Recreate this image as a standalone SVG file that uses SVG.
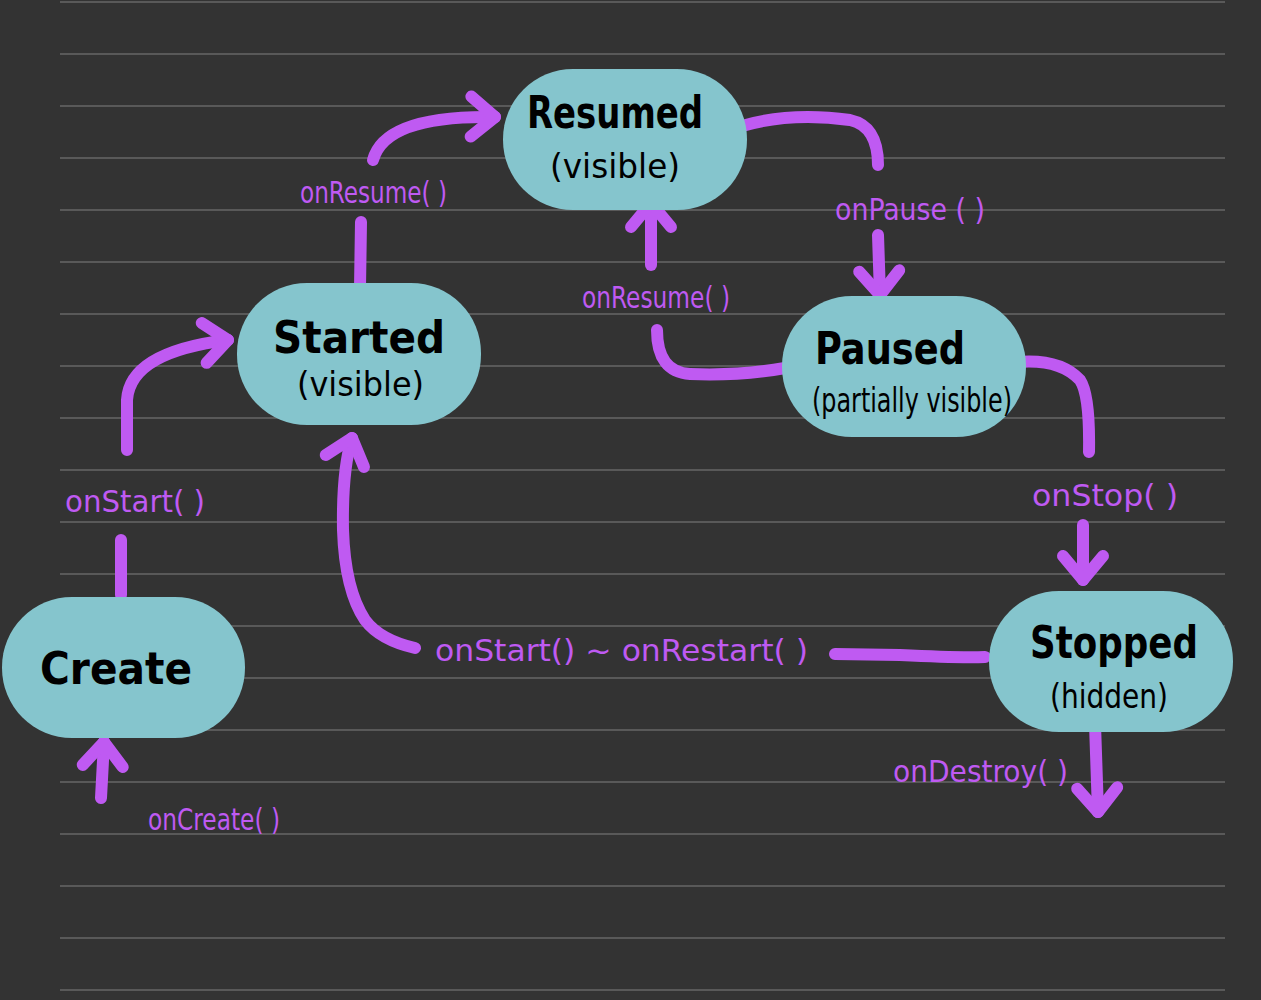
<svg xmlns="http://www.w3.org/2000/svg" width="1261" height="1000" viewBox="0 0 1261 1000">
<defs>
<style>
.rule{stroke:#595959;stroke-width:2}
.node{fill:#85c5cd}
.title{font-family:"DejaVu Sans Condensed","DejaVu Sans",sans-serif;font-weight:bold;fill:#000;font-size:44px}
.sub{font-family:"DejaVu Sans Condensed","DejaVu Sans",sans-serif;fill:#000;font-size:34px}
.lbl{font-family:"DejaVu Sans Condensed","DejaVu Sans",sans-serif;fill:#bf5af2;font-size:30px}
.conn{fill:none;stroke:#bf5af2;stroke-width:12;stroke-linecap:round;stroke-linejoin:round}
</style>
<marker id="ah" markerUnits="userSpaceOnUse" viewBox="-40 -40 80 80" markerWidth="80" markerHeight="80" refX="0" refY="0" orient="auto" overflow="visible">
<path d="M -24 -20 L 0 0 L -24 20" fill="none" stroke="#bf5af2" stroke-width="12" stroke-linecap="round" stroke-linejoin="round"/>
</marker>
</defs>
<rect width="1261" height="1000" fill="#333333"/>
<g id="rules">
<line class="rule" x1="60" y1="2" x2="1225" y2="2"/>
<line class="rule" x1="60" y1="54" x2="1225" y2="54"/>
<line class="rule" x1="60" y1="106" x2="1225" y2="106"/>
<line class="rule" x1="60" y1="158" x2="1225" y2="158"/>
<line class="rule" x1="60" y1="210" x2="1225" y2="210"/>
<line class="rule" x1="60" y1="262" x2="1225" y2="262"/>
<line class="rule" x1="60" y1="314" x2="1225" y2="314"/>
<line class="rule" x1="60" y1="366" x2="1225" y2="366"/>
<line class="rule" x1="60" y1="418" x2="1225" y2="418"/>
<line class="rule" x1="60" y1="470" x2="1225" y2="470"/>
<line class="rule" x1="60" y1="522" x2="1225" y2="522"/>
<line class="rule" x1="60" y1="574" x2="1225" y2="574"/>
<line class="rule" x1="60" y1="626" x2="1225" y2="626"/>
<line class="rule" x1="60" y1="678" x2="1225" y2="678"/>
<line class="rule" x1="60" y1="730" x2="1225" y2="730"/>
<line class="rule" x1="60" y1="782" x2="1225" y2="782"/>
<line class="rule" x1="60" y1="834" x2="1225" y2="834"/>
<line class="rule" x1="60" y1="886" x2="1225" y2="886"/>
<line class="rule" x1="60" y1="938" x2="1225" y2="938"/>
<line class="rule" x1="60" y1="990" x2="1225" y2="990"/>
</g>
<g id="connectors">
<path class="conn" d="M 121 595 L 121 540"/>
<path class="conn" marker-end="url(#ah)" d="M 127 450 L 127 400 Q 130 352 228 340"/>
<path class="conn" d="M 360 288 L 361 222"/>
<path class="conn" marker-end="url(#ah)" d="M 373 160 Q 385 115 495 117"/>
<path class="conn" d="M 742 126 Q 790 112 850 120 Q 878 126 878 165"/>
<path class="conn" marker-end="url(#ah)" d="M 878 235 L 880 295"/>
<path class="conn" d="M 785 368 Q 740 376 690 374 Q 657 372 657 330"/>
<path class="conn" marker-end="url(#ah)" d="M 651 265 L 651 203"/>
<path class="conn" d="M 1016 362 Q 1060 358 1080 380 Q 1090 395 1089 452"/>
<path class="conn" marker-end="url(#ah)" d="M 1083 525 L 1083 580"/>
<path class="conn" d="M 985 657 Q 960 658 900 655 L 835 654"/>
<path class="conn" marker-end="url(#ah)" d="M 415 648 Q 380 640 365 620 Q 345 590 343 530 Q 342 470 352 438"/>
<path class="conn" marker-end="url(#ah)" d="M 101 798 L 104 742"/>
<path class="conn" marker-end="url(#ah)" d="M 1095 724 L 1098 812"/>
</g>
<g id="labels">
<text class="lbl" x="65" y="512" textLength="140" lengthAdjust="spacingAndGlyphs">onStart( )</text>
<text class="lbl" x="300" y="203" textLength="147" lengthAdjust="spacingAndGlyphs">onResume( )</text>
<text class="lbl" x="835" y="220" textLength="150" lengthAdjust="spacingAndGlyphs">onPause ( )</text>
<text class="lbl" x="582" y="308" textLength="148" lengthAdjust="spacingAndGlyphs">onResume( )</text>
<text class="lbl" x="1032" y="506" textLength="146" lengthAdjust="spacingAndGlyphs">onStop( )</text>
<text class="lbl" x="435" y="661" textLength="373" lengthAdjust="spacingAndGlyphs">onStart() ~ onRestart( )</text>
<text class="lbl" x="148" y="830" textLength="132" lengthAdjust="spacingAndGlyphs">onCreate( )</text>
<text class="lbl" x="893" y="782" textLength="175" lengthAdjust="spacingAndGlyphs">onDestroy( )</text>
</g>
<g id="node-resumed">
<rect class="node" x="503" y="69" width="244" height="141" rx="70"/>
<text class="title" x="527" y="128" textLength="176" lengthAdjust="spacingAndGlyphs">Resumed</text>
<text class="sub" x="550" y="178" textLength="130" lengthAdjust="spacingAndGlyphs">(visible)</text>
</g>
<g id="node-started">
<rect class="node" x="237" y="283" width="244" height="142" rx="70"/>
<text class="title" x="273" y="353" textLength="172" lengthAdjust="spacingAndGlyphs">Started</text>
<text class="sub" x="297" y="396" textLength="127" lengthAdjust="spacingAndGlyphs">(visible)</text>
</g>
<g id="node-paused">
<rect class="node" x="782" y="296" width="244" height="141" rx="70"/>
<text class="title" x="815" y="364" textLength="150" lengthAdjust="spacingAndGlyphs">Paused</text>
<text class="sub" x="812" y="412" textLength="200" lengthAdjust="spacingAndGlyphs">(partially visible)</text>
</g>
<g id="node-create">
<rect class="node" x="2" y="597" width="243" height="141" rx="70"/>
<text class="title" x="40" y="684" textLength="152" lengthAdjust="spacingAndGlyphs">Create</text>
</g>
<g id="node-stopped">
<rect class="node" x="989" y="591" width="244" height="141" rx="70"/>
<text class="title" x="1030" y="658" textLength="168" lengthAdjust="spacingAndGlyphs">Stopped</text>
<text class="sub" x="1050" y="708" textLength="118" lengthAdjust="spacingAndGlyphs">(hidden)</text>
</g>
</svg>
